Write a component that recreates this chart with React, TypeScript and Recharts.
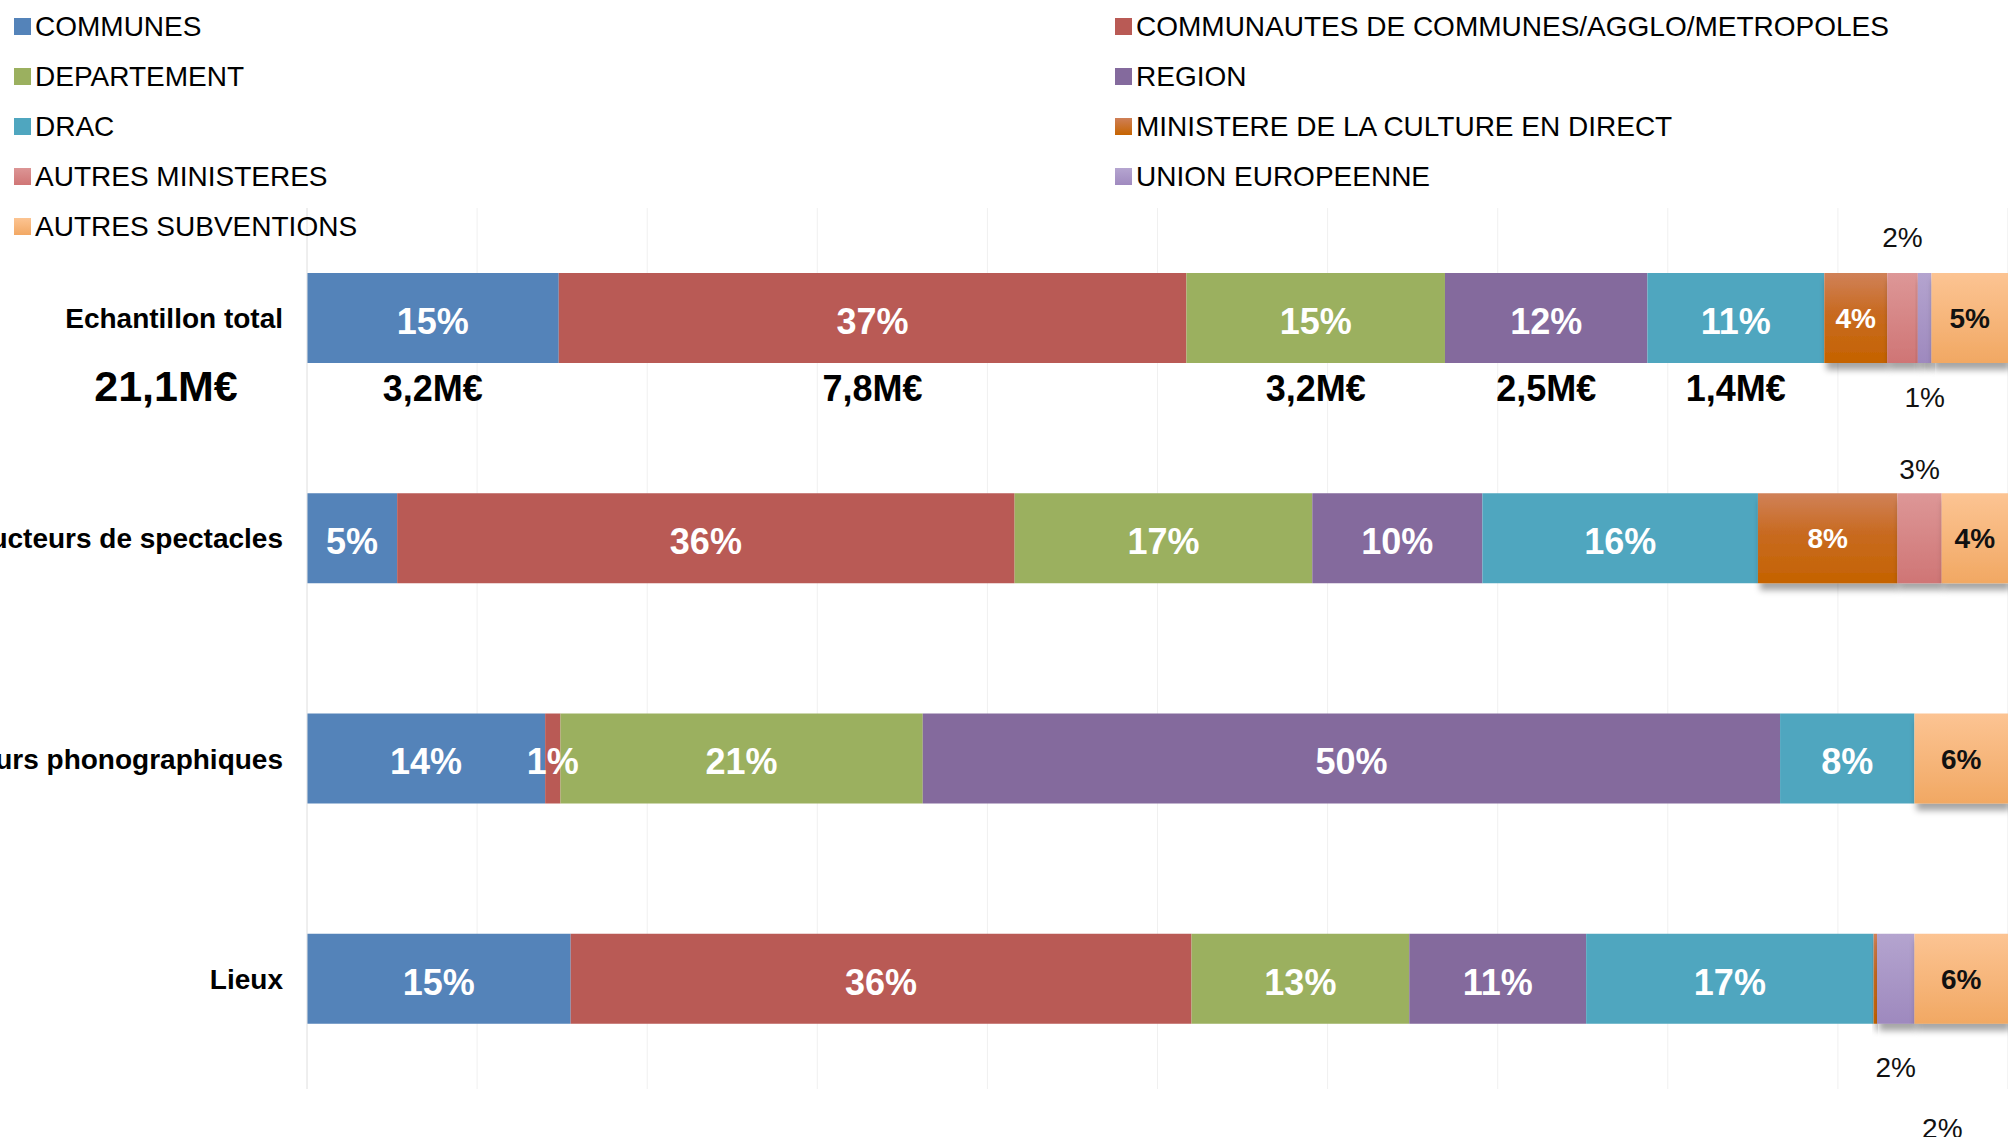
import React from 'react';
import { BarChart, Bar, XAxis, YAxis, CartesianGrid, Legend, LabelList } from 'recharts';

// ---------- data ----------
const categories = ['Echantillon total', 'Producteurs de spectacles', 'Producteurs phonographiques', 'Lieux'];

const seriesNames = [
  'COMMUNES',
  'COMMUNAUTES DE COMMUNES/AGGLO/METROPOLES',
  'DEPARTEMENT',
  'REGION',
  'DRAC',
  'MINISTERE DE LA CULTURE EN DIRECT',
  'AUTRES MINISTERES',
  'UNION EUROPEENNE',
  'AUTRES SUBVENTIONS',
];
const seriesKeys = ['communes', 'communautes', 'departement', 'region', 'drac', 'ministere', 'autresMinisteres', 'unionEuropeenne', 'autresSubventions'];

// shares (%) per category, in category order
const communes = [14.8, 5.3, 14.0, 15.5];
const communautes = [36.9, 36.3, 0.9, 36.5];
const departement = [15.2, 17.5, 21.3, 12.8];
const region = [11.9, 10.0, 50.4, 10.4];
const drac = [10.4, 16.2, 7.9, 16.9];
const ministere = [3.7, 8.2, 0, 0.2];
const autresMinisteres = [1.8, 2.6, 0, 0];
const unionEuropeenne = [0.8, 0, 0, 2.2];
const autresSubventions = [4.5, 3.9, 5.5, 5.5];

// displayed label texts
const communesLabels = ['15%', '5%', '14%', '15%'];
const communautesLabels = ['37%', '36%', '1%', '36%'];
const departementLabels = ['15%', '17%', '21%', '13%'];
const regionLabels = ['12%', '10%', '50%', '11%'];
const dracLabels = ['11%', '16%', '8%', '17%'];
const ministereLabels = ['4%', '8%', '', '2%'];
const autresMinisteresLabels = ['2%', '3%', '', ''];
const unionEuropeenneLabels = ['1%', '', '', '2%'];
const autresSubventionsLabels = ['5%', '4%', '6%', '6%'];

// amounts for "Echantillon total" (first five series)
const totalAmounts = ['3,2M€', '7,8M€', '3,2M€', '2,5M€', '1,4M€'];
const totalAmount = '21,1M€';

const gridTicks = [0, 10, 20, 30, 40, 50, 60, 70, 80, 90, 100];

const seriesValues = [communes, communautes, departement, region, drac, ministere, autresMinisteres, unionEuropeenne, autresSubventions];
const seriesLabels = [communesLabels, communautesLabels, departementLabels, regionLabels, dracLabels, ministereLabels, autresMinisteresLabels, unionEuropeenneLabels, autresSubventionsLabels];

const data = categories.map((name, r) => {
  const row: any = { name };
  seriesKeys.forEach((k, s) => {
    row[k] = seriesValues[s][r];
  });
  return row;
});

// ---------- styles ----------
const FONT = '"Liberation Sans", Arial, Helvetica, sans-serif';
const fills = ['#5483B9', '#B95A55', '#9BB05F', '#846A9D', '#4FA6BF', 'url(#gMin)', 'url(#gAutMin)', 'url(#gUE)', 'url(#gSub)'];
const legendColors = [
  '#5483B9',
  '#B95A55',
  '#9BB05F',
  '#846A9D',
  '#4FA6BF',
  'linear-gradient(#CF7F57, #C66400)',
  'linear-gradient(#DC9595, #D07676)',
  'linear-gradient(#B5A5D0, #A08ABF)',
  'linear-gradient(#FCC492, #F2A864)',
];
const shadowed = [false, false, false, false, false, true, true, true, true];

type Placement = { kind: 'in' | 'small' | 'out' | 'none'; color?: string; from?: 'top' | 'bottom'; dx?: number; dy?: number };
const IN: Placement = { kind: 'in' };
const NONE: Placement = { kind: 'none' };
const SW: Placement = { kind: 'small', color: '#ffffff' };
const SD: Placement = { kind: 'small', color: '#111111' };
const placements: Placement[][] = [
  [IN, IN, IN, IN],
  [IN, IN, IN, IN],
  [IN, IN, IN, IN],
  [IN, IN, IN, IN],
  [IN, IN, IN, IN],
  [SW, SW, NONE, { kind: 'out', from: 'bottom', dy: 104, dx: 67 }],
  [{ kind: 'out', from: 'top', dy: -36 }, { kind: 'out', from: 'top', dy: -24 }, NONE, NONE],
  [{ kind: 'out', from: 'bottom', dy: 34 }, NONE, NONE, { kind: 'out', from: 'bottom', dy: 43 }],
  [SD, SD, SD, SD],
];

const box = (props: any) => {
  const vb = props.viewBox || {};
  return {
    x: Number(props.x ?? vb.x),
    y: Number(props.y ?? vb.y),
    w: Number(props.width ?? vb.width),
    h: Number(props.height ?? vb.height),
  };
};

const makeLabel = (s: number) => (props: any) => {
  const i = props.index;
  if (i == null) return null;
  const text = seriesLabels[s][i];
  const p = placements[s][i];
  if (!text || !p || p.kind === 'none') return null;
  const { x, y, w, h } = box(props);
  const cx = x + w / 2 + (p.dx || 0);
  let cy = y + h / 2;
  let size = 36;
  let weight = 700;
  let color = '#ffffff';
  if (p.kind === 'in') {
    cy = y + h / 2 + 3;
  } else if (p.kind === 'small') {
    size = 28;
    color = p.color || '#fff';
  } else {
    cy = (p.from === 'top' ? y : y + h) + (p.dy || 0);
    size = 28;
    weight = 400;
    color = '#111111';
  }
  return (
    <text x={cx} y={cy + size * 0.358} textAnchor="middle" fontSize={size} fontWeight={weight} fill={color} fontFamily={FONT}>
      {text}
    </text>
  );
};

const makeAmount = (s: number) => (props: any) => {
  if (props.index !== 0) return null;
  const text = totalAmounts[s];
  if (!text) return null;
  const { x, y, w, h } = box(props);
  return (
    <text x={x + w / 2} y={y + h + 25 + 36 * 0.358} textAnchor="middle" fontSize={36} fontWeight={700} fill="#000" fontFamily={FONT}>
      {text}
    </text>
  );
};

const makeShape = (s: number) => (props: any) => {
  const { x, y, width, height } = props;
  if (!width || width <= 0) return <g />;
  return <rect x={x} y={y} width={width} height={height} fill={fills[s]} filter={shadowed[s] ? 'url(#barShadow)' : undefined} />;
};

const CategoryTick = (props: any) => {
  const { x, y, payload } = props;
  return (
    <g>
      <text x={x} y={y + 10} textAnchor="end" fontSize={28} fontWeight={700} fill="#000" fontFamily={FONT}>
        {payload.value}
      </text>
      {payload.value === categories[0] && (
        <text x={x - 117} y={y + 67 + 43 * 0.358} textAnchor="middle" fontSize={43} fontWeight={700} fill="#000" fontFamily={FONT}>
          {totalAmount}
        </text>
      )}
    </g>
  );
};

const renderLegend = (props: any) => {
  const payload = props && props.payload && props.payload.length ? props.payload : seriesNames.map((n) => ({ value: n }));
  return (
    <div style={{ position: 'relative', width: 2008, height: 250, fontFamily: FONT }}>
      {payload.map((entry: any) => {
        const i = seriesNames.indexOf(entry.value);
        if (i < 0) return null;
        const col = i % 2;
        const row = Math.floor(i / 2);
        const left = col === 0 ? 14 : 1115;
        return (
          <React.Fragment key={entry.value}>
            <div style={{ position: 'absolute', left, top: 18 + 50 * row, width: 17, height: 17, background: legendColors[i] }} />
            <div
              style={{
                position: 'absolute',
                left: left + 21,
                top: 11 + 50 * row,
                fontSize: 28,
                lineHeight: '32px',
                color: '#000',
                whiteSpace: 'nowrap',
              }}
            >
              {entry.value}
            </div>
          </React.Fragment>
        );
      })}
    </div>
  );
};

export default function App() {
  return (
    <div style={{ position: 'absolute', left: 0, top: 0, width: 2008, height: 1137, overflow: 'hidden', background: '#fff' }}>
      <BarChart
        width={2008}
        height={1137}
        data={data}
        layout="vertical"
        margin={{ top: 208, right: 0, bottom: 48, left: 0 }}
        barSize={90}
      >
        <defs>
          <linearGradient id="gMin" x1="0" y1="0" x2="0" y2="1">
            <stop offset="0%" stopColor="#D08158" />
            <stop offset="45%" stopColor="#C86A20" />
            <stop offset="100%" stopColor="#C56300" />
          </linearGradient>
          <linearGradient id="gAutMin" x1="0" y1="0" x2="0" y2="1">
            <stop offset="0%" stopColor="#DD9797" />
            <stop offset="100%" stopColor="#CF7575" />
          </linearGradient>
          <linearGradient id="gUE" x1="0" y1="0" x2="0" y2="1">
            <stop offset="0%" stopColor="#B4A4CF" />
            <stop offset="100%" stopColor="#9E89BE" />
          </linearGradient>
          <linearGradient id="gSub" x1="0" y1="0" x2="0" y2="1">
            <stop offset="0%" stopColor="#FCC493" />
            <stop offset="100%" stopColor="#F1A863" />
          </linearGradient>
          <filter id="barShadow" x="-20%" y="-20%" width="140%" height="160%">
            <feDropShadow dx="2" dy="7" stdDeviation="3" floodColor="#000" floodOpacity="0.35" />
          </filter>
        </defs>
        <CartesianGrid horizontal={false} stroke="#F0F0F0" />
        <XAxis type="number" domain={[0, 100]} ticks={gridTicks} hide />
        <YAxis
          type="category"
          dataKey="name"
          width={307}
          tickSize={0}
          tickMargin={24}
          tickLine={false}
          axisLine={{ stroke: '#E6E6E6' }}
          interval={0}
          tick={(p: any) => <CategoryTick {...p} />}
        />
        <Legend
          content={renderLegend}
          layout="vertical"
          align="center"
          verticalAlign="middle"
          wrapperStyle={{ left: 0, top: 0, width: 2008, height: 250 }}
        />
        {seriesKeys.map((k, s) => (
          <Bar key={k} dataKey={k} name={seriesNames[s]} stackId="a" fill={fills[s]} isAnimationActive={false} shape={makeShape(s)}>
            <LabelList dataKey={k} content={makeLabel(s)} />
            {s < 5 && <LabelList dataKey={k} content={makeAmount(s)} />}
          </Bar>
        ))}
      </BarChart>
    </div>
  );
}
